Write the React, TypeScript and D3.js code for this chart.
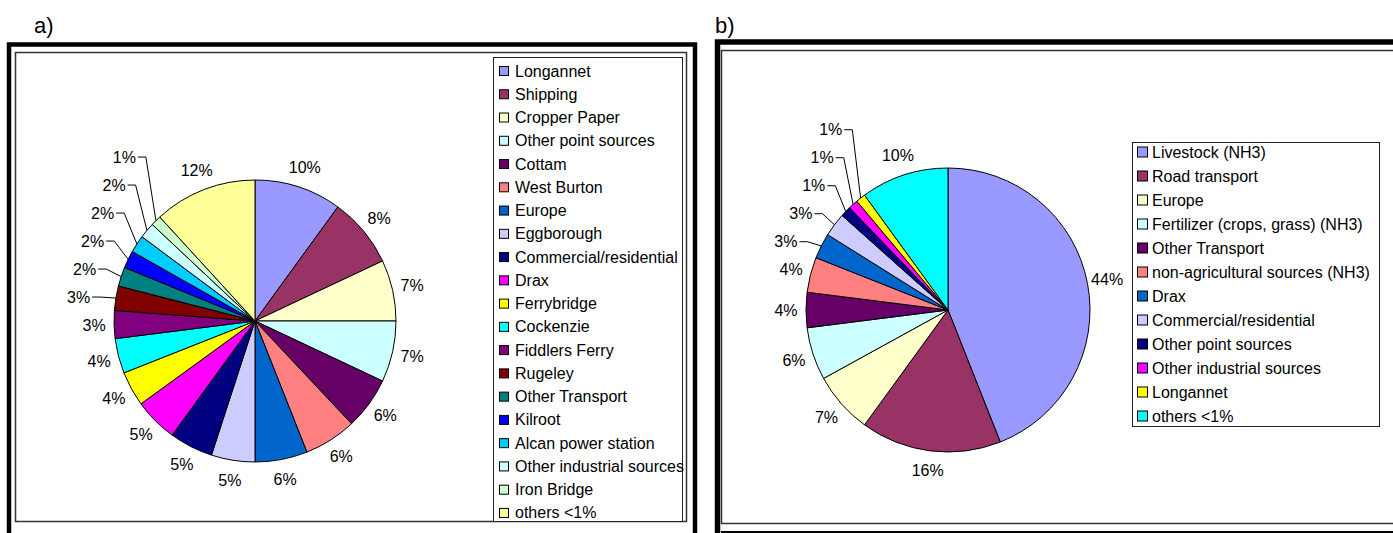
import React from "react";
import * as d3 from "d3";

// ---------- Panel a data ----------
const labelsA = [
  "Longannet", "Shipping", "Cropper Paper", "Other point sources", "Cottam",
  "West Burton", "Europe", "Eggborough", "Commercial/residential", "Drax",
  "Ferrybridge", "Cockenzie", "Fiddlers Ferry", "Rugeley", "Other Transport",
  "Kilroot", "Alcan power station", "Other industrial sources", "Iron Bridge", "others <1%",
];
const valuesA = [10, 8, 7, 7, 6, 6, 6, 5, 5, 5, 4, 4, 3.2, 2.8, 2.2, 2, 2, 1.8, 1.2, 11.8];
const colorsA = [
  "#9999FF", "#993366", "#FFFFCC", "#CCFFFF", "#660066",
  "#FF8080", "#0066CC", "#CCCCFF", "#000080", "#FF00FF",
  "#FFFF00", "#00FFFF", "#800080", "#800000", "#008080",
  "#0000FF", "#00CCFF", "#CCFFFF", "#CCFFCC", "#FFFF99",
];

// ---------- Panel b data ----------
const labelsB = [
  "Livestock (NH3)", "Road transport", "Europe", "Fertilizer (crops, grass) (NH3)",
  "Other Transport", "non-agricultural sources (NH3)", "Drax", "Commercial/residential",
  "Other point sources", "Other industrial sources", "Longannet", "others <1%",
];
const valuesB = [44, 16, 7, 6, 4, 4, 2.9, 2.7, 1.2, 1.1, 1.1, 10];
const colorsB = [
  "#9999FF", "#993366", "#FFFFCC", "#CCFFFF", "#660066", "#FF8080",
  "#0066CC", "#CCCCFF", "#000080", "#FF00FF", "#FFFF00", "#00FFFF",
];

const FONT = "'Liberation Sans', Arial, sans-serif";
const FS = 16;

type PieProps = {
  values: number[];
  colors: string[];
  cx: number;
  cy: number;
  r: number;
};

function Pie({ values, colors, cx, cy, r }: PieProps) {
  const total = d3.sum(values);
  const pie = d3.pie<number>().sort(null).value((d) => d);
  const arcs = pie(values);
  const arcGen = d3.arc<d3.PieArcDatum<number>>().innerRadius(0).outerRadius(r);
  const labelR = r + 20;
  const labelArc = d3.arc<d3.PieArcDatum<number>>().innerRadius(labelR).outerRadius(labelR);
  const edgeArc = d3.arc<d3.PieArcDatum<number>>().innerRadius(r).outerRadius(r);

  const labels: { x: number; y: number; leader: boolean; text: string; edge: [number, number] }[] = [];
  arcs.forEach((a, i) => {
    const [nx, ny] = labelArc.centroid(a);
    const pct = (a.value / total) * 100;
    const text = `${Math.round(pct)}%`;
    const leader = pct < 3 && i > 0;
    if (leader) {
      const prev = labels[i - 1];
      labels.push({ x: nx - 18, y: prev.y - 28, leader, text, edge: edgeArc.centroid(a) as [number, number] });
    } else {
      labels.push({ x: nx, y: ny, leader, text, edge: edgeArc.centroid(a) as [number, number] });
    }
  });

  return (
    <g transform={`translate(${cx},${cy})`}>
      {arcs.map((a, i) => (
        <path key={i} d={arcGen(a) || ""} fill={colors[i]} stroke="#000" strokeWidth={1} strokeLinejoin="round" />
      ))}
      {labels.map((l, i) => {
        if (l.leader) {
          const xEnd = l.x + 12;
          const pts = [
            [xEnd + 2, l.y],
            [xEnd + 10, l.y],
            [l.edge[0], l.edge[1]],
          ];
          return (
            <g key={i}>
              <polyline points={pts.map((p) => p.join(",")).join(" ")} fill="none" stroke="#000" strokeWidth={1} />
              <text x={xEnd} y={l.y} textAnchor="end" dominantBaseline="central" fontSize={FS} fontFamily={FONT}>
                {l.text}
              </text>
            </g>
          );
        }
        return (
          <text key={i} x={l.x} y={l.y} textAnchor="middle" dominantBaseline="central" fontSize={FS} fontFamily={FONT}>
            {l.text}
          </text>
        );
      })}
    </g>
  );
}

type LegendProps = {
  labels: string[];
  colors: string[];
  x: number;
  y: number;
  w: number;
  h: number;
  firstY: number;
  step: number;
  swatch: number;
  swatchX: number;
  textX: number;
};

function Legend({ labels, colors, x, y, w, h, firstY, step, swatch, swatchX, textX }: LegendProps) {
  const scale = d3.scaleLinear().domain([0, 1]).range([firstY, firstY + step]);
  return (
    <g>
      <rect x={x} y={y} width={w} height={h} fill="#fff" stroke="#222" strokeWidth={1} />
      {labels.map((l, i) => {
        const yy = scale(i);
        return (
          <g key={i}>
            <rect x={swatchX} y={yy - swatch / 2} width={swatch} height={swatch} fill={colors[i]} stroke="#000" strokeWidth={1} />
            <text x={textX} y={yy} dominantBaseline="central" fontSize={FS} fontFamily={FONT}>
              {l}
            </text>
          </g>
        );
      })}
    </g>
  );
}

export default function App() {
  return (
    <svg
      width={1393}
      height={533}
      style={{ position: "absolute", left: 0, top: 0, background: "#fff" }}
    >
      <rect x={0} y={0} width={1393} height={533} fill="#fff" />
      {/* Panel a */}
      <text x={34} y={33} fontSize={22} fontFamily={FONT}>a)</text>
      <rect x={9} y={44.5} width={686} height={530} fill="none" stroke="#000" strokeWidth={4.5} />
      <rect x={15.5} y={52.5} width={671} height={469} fill="#fff" stroke="#333" strokeWidth={1.5} />
      <Pie values={valuesA} colors={colorsA} cx={255} cy={321} r={141} />
      <Legend
        labels={labelsA}
        colors={colorsA}
        x={493.5}
        y={57.5}
        w={189}
        h={464}
        firstY={71}
        step={23.26}
        swatch={9}
        swatchX={499.5}
        textX={515}
      />

      {/* Panel b */}
      <text x={715} y={33} fontSize={22} fontFamily={FONT}>b)</text>
      <rect x={717.5} y={42} width={700} height={530} fill="none" stroke="#000" strokeWidth={5.5} />
      <rect x={721.5} y={50.5} width={700} height={473} fill="#fff" stroke="#333" strokeWidth={1.5} />
      <line x1={721} x2={1393} y1={532} y2={532} stroke="#000" strokeWidth={2} />
      <Pie values={valuesB} colors={colorsB} cx={948} cy={310} r={142} />
      <Legend
        labels={labelsB}
        colors={colorsB}
        x={1132.5}
        y={142.5}
        w={247}
        h={284}
        firstY={152}
        step={24}
        swatch={10}
        swatchX={1137.5}
        textX={1152}
      />
    </svg>
  );
}
